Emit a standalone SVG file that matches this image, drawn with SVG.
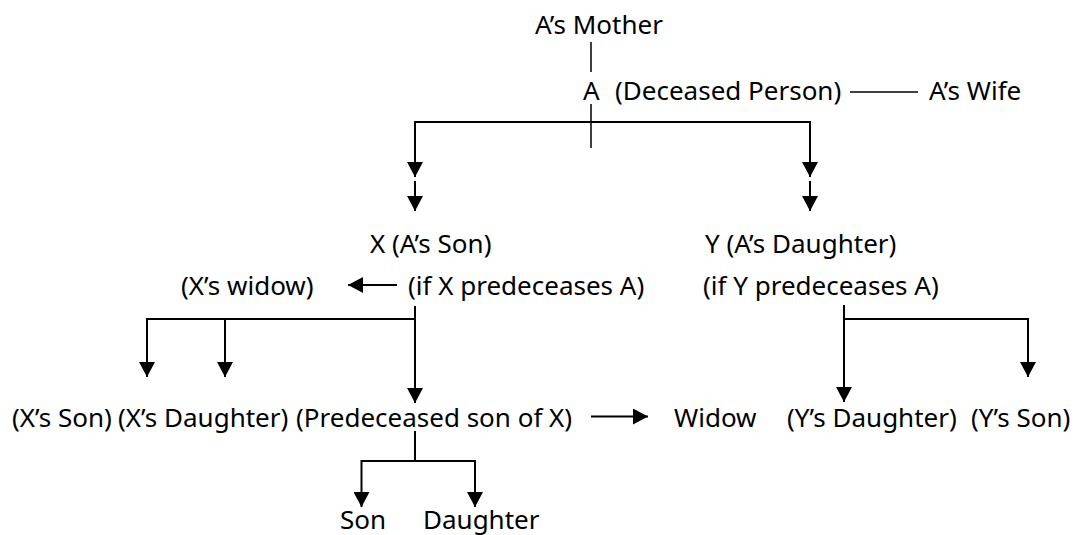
<svg xmlns="http://www.w3.org/2000/svg" width="1075" height="535" viewBox="0 0 1075 535">
<defs>
<style>
text{font-family:"Noto Sans","Open Sans","Liberation Sans",sans-serif;font-size:26px;fill:#000}
.ln{fill:none;stroke:#000;stroke-width:2}
.thin{fill:none;stroke:#000;stroke-width:1.5}
.ar{fill:none;stroke:#000;stroke-width:2;marker-end:url(#ah)}
</style>
<marker id="ah" viewBox="0 0 15 16" refX="15" refY="8" markerWidth="15" markerHeight="16" markerUnits="userSpaceOnUse" orient="auto">
<path d="M0,0 L15,8 L0,16 Z" fill="#000"/>
</marker>
</defs>
<rect width="1075" height="535" fill="#fff"/>
<g id="connectors">
<path class="thin" d="M591 42 V72"/>
<path class="thin" d="M591 104 V148"/>
<path class="thin" d="M850 92 H918"/>
<path class="ln" d="M415 122 H810"/>
<path class="ar" d="M415 121 V177"/>
<path class="ar" d="M415 181 V211"/>
<path class="ar" d="M810 121 V177"/>
<path class="ar" d="M810 181 V211"/>
<path class="ar" d="M397 285 H348"/>
<path class="ln" d="M147 319 H415"/>
<path class="ar" d="M415 306 V403"/>
<path class="ar" d="M147 318 V377"/>
<path class="ar" d="M225 318 V377"/>
<path class="ln" d="M415 431 V461"/>
<path class="ln" d="M361.5 461 H475"/>
<path class="ar" d="M361.5 460 V507"/>
<path class="ar" d="M475 460 V507"/>
<path class="ar" d="M591 416.5 H648"/>
<path class="ln" d="M844 319 H1028"/>
<path class="ar" d="M844 305 V402"/>
<path class="ar" d="M1028 318 V377"/>
</g>
<g id="mother"><text x="535" y="34">A’s Mother</text></g>
<g id="a"><text x="583" y="100">A<tspan x="615">(Deceased Person)</tspan></text></g>
<g id="wife"><text x="929" y="100">A’s Wife</text></g>
<g id="x"><text x="370" y="253">X (A’s Son)</text><text x="408" y="295">(if X predeceases A)</text></g>
<g id="y"><text x="705" y="253">Y (A’s Daughter)</text><text x="703" y="295">(if Y predeceases A)</text></g>
<g id="xwidow"><text x="181" y="295">(X’s widow)</text></g>
<g id="xson"><text x="12" y="427">(X’s Son)</text></g>
<g id="xdaughter"><text x="118" y="427">(X’s Daughter)</text></g>
<g id="predeceased"><text x="296" y="427">(Predeceased son of X)</text></g>
<g id="widow"><text x="674" y="427">Widow</text></g>
<g id="ydaughter"><text x="787" y="427">(Y’s Daughter)</text></g>
<g id="yson"><text x="971" y="427">(Y’s Son)</text></g>
<g id="son"><text x="340" y="529">Son</text></g>
<g id="daughter"><text x="423" y="529">Daughter</text></g>
</svg>
